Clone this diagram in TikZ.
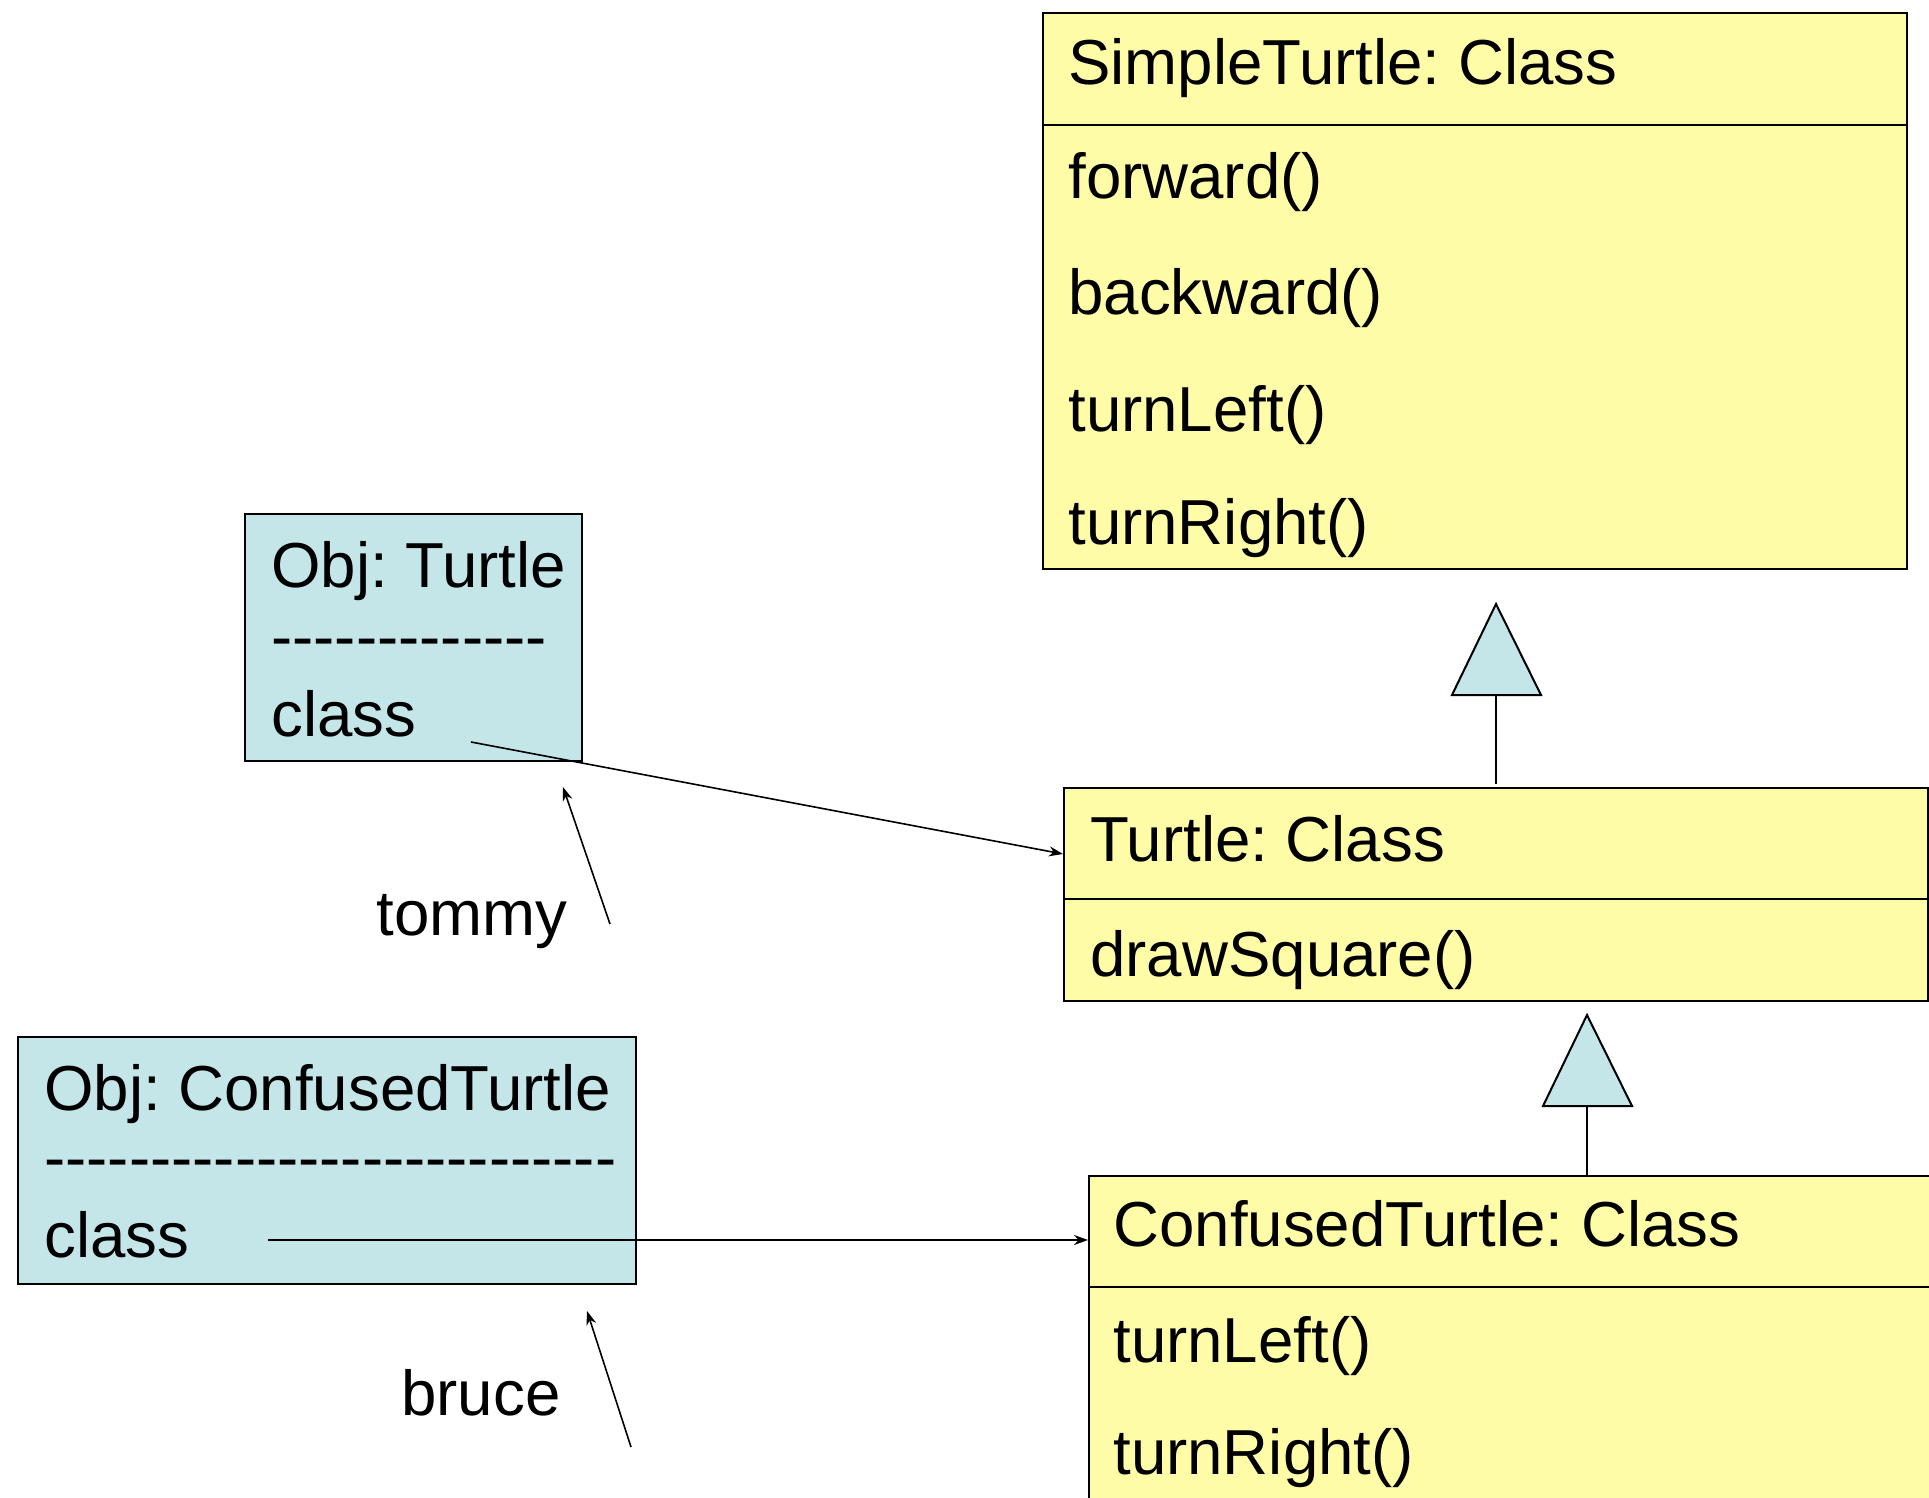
\documentclass[tikz,border=0pt]{standalone}
\usepackage{fontspec}
\setmainfont{Liberation Sans}
\usetikzlibrary{arrows.meta}
\definecolor{classyellow}{RGB}{255,252,168}
\definecolor{objblue}{RGB}{196,230,232}
% a hyphen that never joins its neighbour into an en dash
\newcommand\hy{-\kern0pt}
\frenchspacing
\begin{document}
\begin{tikzpicture}[x=0.5pt,y=-0.5pt,
  every node/.style={font=\fontsize{31.8}{38}\selectfont},
  box/.style={draw=black, line width=1pt, anchor=north west, inner sep=0pt},
  classbox/.style={box, fill=classyellow},
  objbox/.style={box, fill=objblue},
  txt/.style={anchor=base west, inner sep=0pt},
  link/.style={line width=0.8pt, -{Stealth[length=7pt,width=5pt]}},
  gen/.style={draw=black, line width=1pt, fill=objblue, line join=miter},
  stem/.style={line width=0.8pt}]
\useasboundingbox (0,0) rectangle (1929,1498);
\clip (0,0) rectangle (1929,1498);

% class boxes
\node[classbox, minimum width=432pt, minimum height=278pt] (simple) at (1042,12) {};
\draw[line width=1pt] (1042,125) -- (1906,125);
\node[txt] (simpleT) at (1068,85) {SimpleTurtle: Class};
\node[txt] (mFwd) at (1068,199) {forward()};
\node[txt] (mBwd) at (1068,315) {backward()};
\node[txt] (mLeft) at (1068,431) {turnLeft()};
\node[txt] (mRight) at (1068,544) {turnRight()};

\node[classbox, minimum width=432pt, minimum height=106.5pt] (turtle) at (1063,787) {};
\draw[line width=1pt] (1063,899) -- (1927,899);
\node[txt] (turtleT) at (1090,861) {Turtle: Class};
\node[txt] (mSquare) at (1090,976) {drawSquare()};

\node[classbox, minimum width=430pt, minimum height=170pt] (confused) at (1088,1175) {};
\draw[line width=1pt] (1088,1287) -- (1940,1287);
\node[txt] (confusedT) at (1113,1246) {ConfusedTurtle: Class};
\node[txt] (cLeft) at (1113,1362) {turnLeft()};
\node[txt] (cRight) at (1113,1474) {turnRight()};

% object boxes
\node[objbox, minimum width=168.5pt, minimum height=123.5pt] (objT) at (244,513) {};
\node[txt] (objTT) at (271,587) {Obj: Turtle};
\node[txt] (objTD) at (271,658) {\hy\hy\hy\hy\hy\hy\hy\hy\hy\hy\hy\hy\hy};
\node[txt] (objTC) at (271,736) {class};

\node[objbox, minimum width=309pt, minimum height=123.5pt] (objC) at (17,1036) {};
\node[txt] (objCT) at (44,1110) {Obj: ConfusedTurtle};
\node[txt] (objCD) at (44,1179) {\hy\hy\hy\hy\hy\hy\hy\hy\hy\hy\hy\hy\hy\hy\hy\hy\hy\hy\hy\hy\hy\hy\hy\hy\hy\hy\hy};
\node[txt] (objCC) at (44,1257) {class};

% variable names
\node[txt] (tommy) at (376,935) {tommy};
\node[txt] (bruce) at (401,1415) {bruce};

% connector end points
\coordinate (tClassFrom) at (471,742);
\coordinate (tClassTo) at (1063,854);
\coordinate (cClassFrom) at (268,1240);
\coordinate (cClassTo) at (1088,1240);
\coordinate (tommyTail) at (610,924);
\coordinate (tommyHead) at (563,787);
\coordinate (bruceTail) at (631,1447);
\coordinate (bruceHead) at (587,1311);

% class references
\draw[link] (tClassFrom) -- (tClassTo);
\draw[link] (cClassFrom) -- (cClassTo);
% variables pointing at their objects
\draw[link] (tommyTail) -- (tommyHead);
\draw[link] (bruceTail) -- (bruceHead);

% inheritance: Turtle -> SimpleTurtle
\coordinate (gen1) at (1496,695);
\draw[gen] (1496,604) -- (1541,695) -- (1452,695) -- cycle;
\draw[stem] (gen1) -- (1496,784);

% inheritance: ConfusedTurtle -> Turtle
\coordinate (gen2) at (1587,1106);
\draw[gen] (1587,1015) -- (1632,1106) -- (1543,1106) -- cycle;
\draw[stem] (gen2) -- (gen2 |- confused.north);
\end{tikzpicture}
\end{document}
